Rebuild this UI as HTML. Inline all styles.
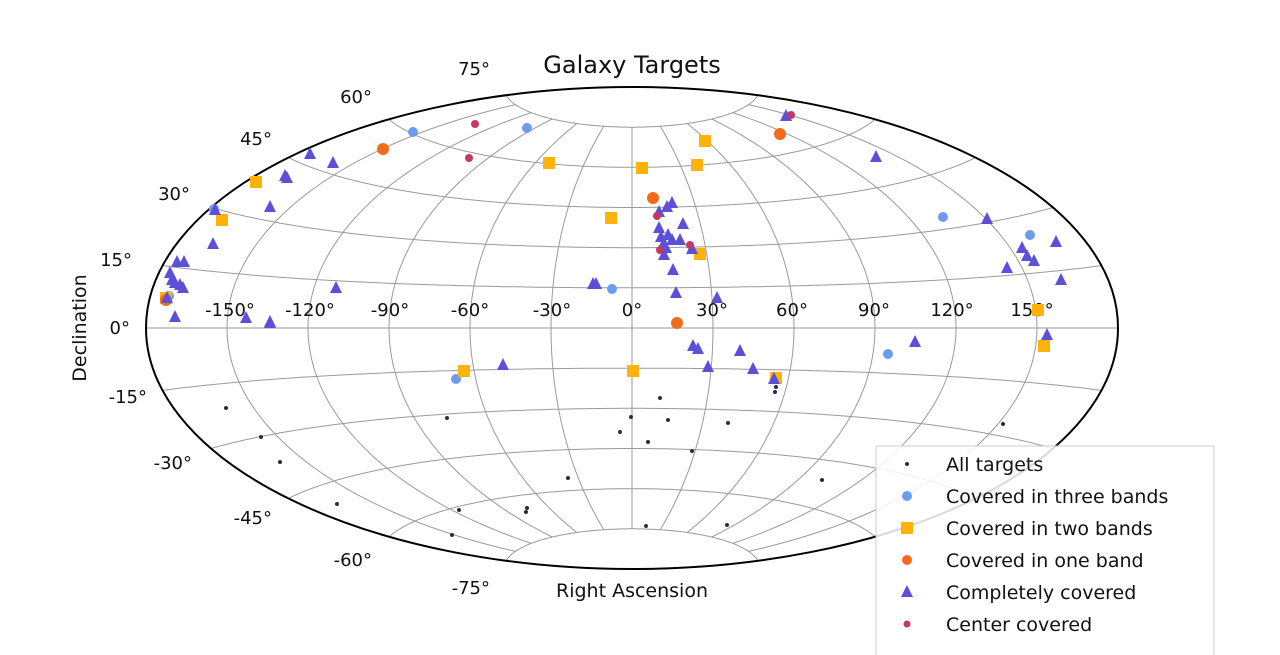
<!DOCTYPE html>
<html><head><meta charset="utf-8"><style>
html,body{margin:0;padding:0;background:#fff;}
svg{display:block;}
text{font-family:"DejaVu Sans","Liberation Sans",sans-serif;fill:#111;}
</style></head><body>
<svg id="s" width="1280" height="655" viewBox="0 0 1280 655" xmlns="http://www.w3.org/2000/svg">
<g id="grid" fill="none" stroke="#9a9a9a" stroke-width="1"></g>
<ellipse cx="632" cy="328" rx="486" ry="241" fill="none" stroke="#000" stroke-width="2"/>
<text x="632" y="73" font-size="24" text-anchor="middle">Galaxy Targets</text>
<text x="632" y="597" font-size="19" text-anchor="middle">Right Ascension</text>
<text transform="translate(86,328) rotate(-90)" font-size="19" text-anchor="middle">Declination</text>
<g font-size="18" text-anchor="middle">
<text x="230" y="316">-150°</text><text x="310" y="316">-120°</text><text x="390" y="316">-90°</text>
<text x="470" y="316">-60°</text><text x="552" y="316">-30°</text><text x="632" y="316">0°</text>
<text x="712" y="316">30°</text><text x="792" y="316">60°</text><text x="874" y="316">90°</text>
<text x="952" y="316">120°</text><text x="1032" y="316">150°</text>
</g>
<g font-size="18" text-anchor="end">
<text x="490" y="75">75°</text><text x="372" y="103">60°</text><text x="272" y="145">45°</text>
<text x="190" y="200">30°</text><text x="132" y="266">15°</text><text x="130" y="334">0°</text>
<text x="147" y="403">-15°</text><text x="192" y="469">-30°</text><text x="272" y="524">-45°</text>
<text x="372" y="566">-60°</text><text x="490" y="594">-75°</text>
</g>
<g id="pts"></g>
<rect x="876" y="446" width="338" height="215" fill="#fff" fill-opacity="0.85" stroke="#ccc" stroke-width="1"/>
<g font-size="19">
<text x="946" y="471">All targets</text>
<text x="946" y="503">Covered in three bands</text>
<text x="946" y="535">Covered in two bands</text>
<text x="946" y="567">Covered in one band</text>
<text x="946" y="599">Completely covered</text>
<text x="946" y="631">Center covered</text>
</g>
<g id="leg"></g>
</svg>
<script>
var cx=632,cy=328,Rx=486,Ry=241;
function P(lon,lat){var l=lon*Math.PI/180,p=lat*Math.PI/180;var a=Math.acos(Math.cos(p)*Math.cos(l/2));var s=a<1e-9?1:Math.sin(a)/a;
var x=2*Math.cos(p)*Math.sin(l/2)/s,y=Math.sin(p)/s;return [cx+Rx*x/Math.PI,cy-Ry*y/(Math.PI/2)];}
var g=document.getElementById('grid'),d='';
for(var lat=-75;lat<=75;lat+=15){for(var lo=-180;lo<=180;lo+=2){var q=P(lo,lat);d+=(lo==-180?'M':'L')+q[0].toFixed(1)+' '+q[1].toFixed(1);}}
for(var lo=-150;lo<=150;lo+=30){for(var la=-75;la<=75;la+=2.5){var q=P(lo,la);d+=(la==-75?'M':'L')+q[0].toFixed(1)+' '+q[1].toFixed(1);}}
g.innerHTML='<path d="'+d+'"/>';
var NS='http://www.w3.org/2000/svg',pts=document.getElementById('pts');
function add(el,attrs,par){var e=document.createElementNS(NS,el);for(var k in attrs)e.setAttribute(k,attrs[k]);(par||pts).appendChild(e);}
function tri(x,y,c,par){add('polygon',{points:(x)+','+(y-7)+' '+(x-6)+','+(y+5)+' '+(x+6)+','+(y+5),fill:c},par);}
function sq(x,y,c,par){add('rect',{x:x-6,y:y-6,width:12,height:12,fill:c},par);}
function ci(x,y,r,c,par){add('circle',{cx:x,cy:y,r:r,fill:c},par);}
var T=[[310,154],[333,163],[285,176],[287,178],[215,210],[270,207],[213,244],[246,318],[270,322],[170,273],[177,262],[184,262],[175,283],[180,285],[167,298],[175,317],[336,288],[503,365],[593,284],[667,207],[672,203],[661,237],[666,248],[672,240],[680,240],[683,224],[659,228],[664,255],[673,270],[692,249],[676,293],[717,298],[693,346],[698,349],[708,367],[740,351],[753,369],[786,116],[876,157],[987,219],[1022,248],[1027,256],[1056,242],[1034,261],[1007,268],[1061,280],[1047,335],[915,342],[596,284],[774,379],[659,212],[668,235],[663,245],[270,323],[172,280],[183,288]];
var B3=[[413,132],[527,128],[214,209],[169,296],[612,289],[456,379],[943,217],[1030,235],[888,354]];
var B2=[[256,182],[222,220],[549,163],[642,168],[611,218],[705,141],[697,165],[700,254],[464,371],[633,371],[1038,310],[1044,346],[776,378],[166,298]];
var B1=[[383,149],[780,134],[653,198],[677,323],[166,300]];
var CC=[[475,124],[469,158],[657,216],[690,245],[791,115],[660,250]];
var A=[[226,408],[261,437],[280,462],[337,504],[447,418],[459,510],[452,535],[527,508],[526,512],[568,478],[620,432],[631,417],[648,442],[660,398],[668,420],[692,451],[728,423],[727,525],[646,526],[775,392],[776,387],[822,480],[1003,424],[773,380]];
A.forEach(function(p){ci(p[0],p[1],2,'#2a2a50');});
B3.forEach(function(p){ci(p[0],p[1],5,'#6b9cf0');});
B2.forEach(function(p){sq(p[0],p[1],'#ffb20a');});
B1.forEach(function(p){ci(p[0],p[1],6,'#f26a1b');});
T.forEach(function(p){tri(p[0],p[1],'#5c4fd8');});
CC.forEach(function(p){ci(p[0],p[1],4,'#c43767');});
var L=document.getElementById('leg');
ci(907,464,2,'#2a2a50',L);ci(907,496,5,'#6b9cf0',L);sq(907,528,'#ffb20a',L);ci(907,560,5,'#f26a1b',L);tri(907,592,'#5c4fd8',L);ci(907,624,3.5,'#c43767',L);
</script>
</body></html>
